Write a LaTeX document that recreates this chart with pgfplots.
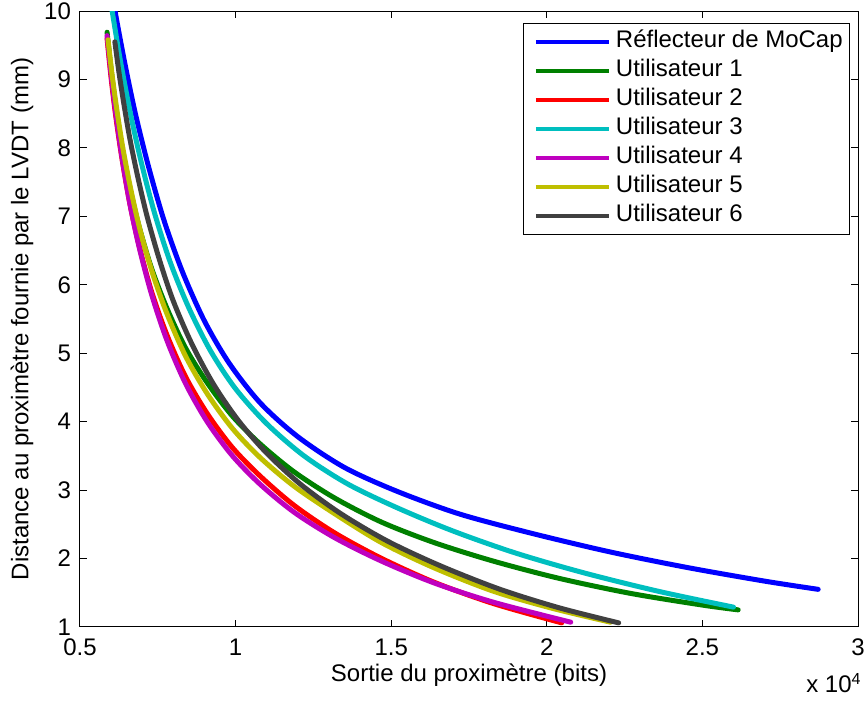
\documentclass[border=0pt]{standalone}
\usepackage{fontspec}
\setmainfont{Liberation Sans}
\usepackage{pgfplots}
\pgfplotsset{compat=1.18}

% MATLAB default line colours
\definecolor{mblue}{rgb}{0,0,1}
\definecolor{mgreen}{rgb}{0,0.5,0}
\definecolor{mred}{rgb}{1,0,0}
\definecolor{mcyan}{rgb}{0,0.75,0.75}
\definecolor{mmag}{rgb}{0.75,0,0.75}
\definecolor{myel}{rgb}{0.75,0.75,0}
\definecolor{mgray}{rgb}{0.25,0.25,0.25}

\begin{document}
\begin{tikzpicture}[font=\fontsize{12}{14.4}\selectfont]
\begin{axis}[
  scale only axis,
  width=389pt, height=308pt,
  xmin=0.5, xmax=3, ymin=1, ymax=10,
  xtick={0.5,1,1.5,2,2.5,3},
  xticklabels={0.5,1,1.5,2,2.5,3},
  ytick={1,2,3,4,5,6,7,8,9,10},
  yticklabels={1,2,3,4,5,6,7,8,9,10},
  tick align=inside,
  major tick length=3.5pt,
  tick style={black, line width=0.5pt},
  axis line style={line width=0.5pt},
  xticklabel style={yshift=-2.5pt},
  yticklabel style={xshift=-1pt},
  every axis plot/.append style={line width=2.5pt, line cap=round, line join=round},
  legend cell align=left,
  legend image code/.code={
    \path[draw=none, fill=none] (-4pt,-1pt) rectangle (0pt,1pt);
    \draw[#1, line width=2pt, line cap=butt] (0pt,0pt) -- (36.5pt,0pt);},
  legend style={at={(rel axis cs:0.99,0.98)}, anchor=north east,
    draw=black, line width=0.5pt, inner xsep=2pt, inner ysep=2pt,
    row sep=0pt, column sep=1pt,
    nodes={inner sep=1.5pt, text height=8.5pt, text depth=3pt},
    font=\fontsize{12}{14.4}\selectfont},
]
\addplot[mblue, smooth] table {
0.600 10.35
0.613 9.99
0.630 9.57
0.650 9.10
0.680 8.46
0.720 7.73
0.770 6.94
0.830 6.18
0.900 5.47
0.980 4.85
1.080 4.27
1.200 3.78
1.350 3.33
1.520 2.98
1.720 2.65
1.950 2.37
2.200 2.10
2.450 1.87
2.700 1.67
2.872 1.55
};
\addlegendentry{Réflecteur de MoCap}
\addplot[mgreen, smooth] table {
0.587 9.69
0.600 9.15
0.615 8.60
0.635 8.01
0.660 7.42
0.690 6.85
0.730 6.24
0.780 5.65
0.840 5.07
0.910 4.56
0.990 4.08
1.080 3.67
1.190 3.26
1.320 2.88
1.470 2.53
1.640 2.23
1.830 1.96
2.040 1.71
2.270 1.49
2.500 1.32
2.615 1.25
};
\addlegendentry{Utilisateur 1}
\addplot[mred, smooth] table {
0.587 9.60
0.600 9.02
0.615 8.46
0.635 7.84
0.660 7.19
0.690 6.57
0.730 5.90
0.780 5.26
0.840 4.65
0.910 4.11
0.990 3.62
1.080 3.20
1.190 2.77
1.320 2.37
1.470 2.00
1.640 1.65
1.830 1.34
2.048 1.06
};
\addlegendentry{Utilisateur 2}
\addplot[mcyan, smooth] table {
0.595 10.24
0.604 9.98
0.625 9.40
0.645 8.90
0.670 8.33
0.700 7.73
0.740 7.04
0.790 6.33
0.850 5.66
0.920 5.03
1.000 4.48
1.100 3.97
1.220 3.50
1.360 3.09
1.520 2.74
1.700 2.40
1.900 2.08
2.120 1.79
2.360 1.52
2.600 1.29
};
\addlegendentry{Utilisateur 3}
\addplot[mmag, smooth] table {
0.587 9.64
0.600 9.07
0.615 8.50
0.635 7.86
0.660 7.19
0.690 6.55
0.730 5.86
0.780 5.18
0.840 4.55
0.910 3.99
0.990 3.50
1.080 3.08
1.190 2.67
1.320 2.30
1.470 1.96
1.640 1.64
1.830 1.36
2.077 1.07
};
\addlegendentry{Utilisateur 4}
\addplot[myel, smooth] table {
0.590 9.58
0.603 9.07
0.618 8.57
0.638 7.99
0.663 7.40
0.693 6.80
0.733 6.17
0.780 5.57
0.840 4.95
0.910 4.40
0.990 3.90
1.080 3.47
1.190 3.05
1.320 2.65
1.470 2.23
1.640 1.86
1.830 1.52
2.020 1.27
2.205 1.07
};
\addlegendentry{Utilisateur 5}
\addplot[mgray, smooth] table {
0.612 9.55
0.625 9.11
0.640 8.67
0.660 8.14
0.685 7.59
0.715 7.01
0.755 6.37
0.800 5.76
0.860 5.13
0.930 4.54
1.010 4.01
1.100 3.54
1.210 3.08
1.340 2.65
1.490 2.25
1.660 1.89
1.850 1.55
2.040 1.28
2.231 1.06
};
\addlegendentry{Utilisateur 6}
\coordinate (bl) at (rel axis cs:0,0);
\coordinate (tr) at (rel axis cs:1,1);
\coordinate (br) at (rel axis cs:1,0);
\coordinate (xl) at (rel axis cs:0.5,0);
\coordinate (yl) at (rel axis cs:0,0.5);
\end{axis}
\node[anchor=base] at ([yshift=-27.5pt]xl) {Sortie du proximètre (bits)};
\node[rotate=90, anchor=center] at ([xshift=-29pt]yl) {Distance au proximètre fournie par le LVDT (mm)};
\node[anchor=base east, inner sep=0pt] at ([xshift=2pt, yshift=-33pt]br) {x 10\textsuperscript{4}};
\pgfresetboundingbox
\path[use as bounding box] ([xshift=-40pt, yshift=-37.5pt]bl) rectangle ([xshift=5pt, yshift=5.5pt]tr);
\end{tikzpicture}
\end{document}
